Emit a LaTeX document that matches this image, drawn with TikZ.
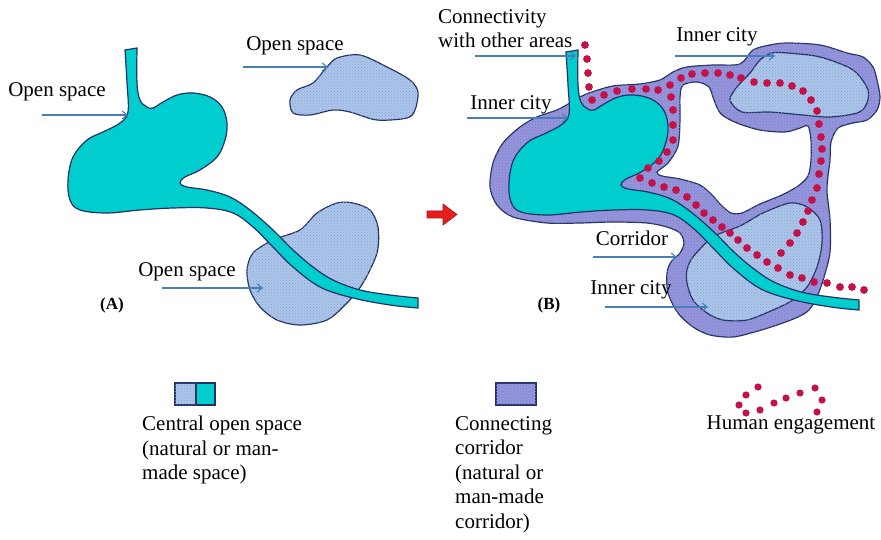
\documentclass[tikz,border=0pt]{standalone}
\usepackage{fontspec}
\setmainfont{Liberation Serif}
\usetikzlibrary{arrows.meta, patterns}
\definecolor{navy1}{RGB}{35, 50, 100}
\definecolor{river1}{RGB}{0, 205, 205}
\definecolor{open1}{RGB}{172, 198, 236}
\definecolor{corr1}{RGB}{150, 150, 222}
\definecolor{arrow1}{RGB}{74, 126, 187}
\definecolor{dot1}{RGB}{196, 18, 72}
\definecolor{red1}{RGB}{232, 30, 30}

\tikzset{
  lbl/.style={inner sep=0pt, font=\fontsize{21}{24.5}\selectfont},
  tag/.style={inner sep=0pt, font=\fontsize{17}{20}\selectfont\bfseries},
  ptr/.style={draw=arrow1, line width=1.1pt, -{Straight Barb[length=5pt,width=8pt]}},
  rim/.style={draw=navy1, line width=1.2pt},
  central/.style={rim, fill=river1},
  opensp/.style={rim, fill=open1, postaction={pattern=crosshatch dots, pattern color=open1!75!navy1}},
  corridor/.style={rim, fill=corr1, postaction={pattern=crosshatch dots, pattern color=corr1!75!navy1}},
  people/.style={fill=dot1},
  centralspace/.pic={
    \filldraw[central] (125,50)
      -- plot[smooth, tension=0.6] coordinates {(137,48) (137,83) (140,100) (147,107) (153,108) (163,102) (177,95) (193,93) (210,97) (222,107) (227,123) (225,140) (217,157) (200,170) (185,177) (180,183) (187,187) (207,190) (230,197) (250,210) (273,230) (293,250) (313,267) (333,280) (360,290) (390,295) (418,298)}
      -- plot[smooth, tension=0.6] coordinates {(418,308) (390,305) (353,298) (320,287) (293,267) (273,247) (253,227) (233,213) (207,208) (173,208) (140,210) (107,213) (80,210) (70,200) (68,180) (73,157) (87,140) (103,132) (120,123) (128,112) (127,83) (125,50)}
      -- cycle;
  }
}

\begin{document}
\begin{tikzpicture}[x=1pt, y=-1pt]
  \useasboundingbox (0,0) rectangle (881,540);

  % (A)
  \filldraw[opensp] plot[smooth cycle] coordinates {(290,100) (297,90) (313,83) (327,67) (337,58) (360,55) (387,67) (410,80) (418,92) (415,110) (407,118) (377,120) (350,112) (333,110) (310,115) (293,113)};
  \filldraw[opensp] plot[smooth cycle] coordinates {(247,270) (253,253) (273,240) (300,230) (317,213) (337,203) (353,203) (370,210) (378,227) (377,253) (363,283) (347,303) (327,320) (300,325) (277,320) (260,307) (250,290)};
  \pic (spaceA) at (0,0) {centralspace};

  \node[lbl] (openL) at (57,92) {Open space};
  \node[lbl] (openT) at (295,46) {Open space};
  \node[lbl] (openB) at (187,272) {Open space};
  \node[tag] (tagA) at (112,305) {(A)};
  \coordinate (openL0) at (42,115);  \coordinate (openL1) at (128,115);
  \coordinate (openT0) at (243,67);  \coordinate (openT1) at (328,67);
  \coordinate (openB0) at (162,288); \coordinate (openB1) at (263,288);
  \draw[ptr] (openL0) -- (openL1);
  \draw[ptr] (openT0) -- (openT1);
  \draw[ptr] (openB0) -- (openB1);

  % arrow between
  \filldraw[fill=red1, draw=red1!70!black, line width=0.6pt] (427,211) -- (443,211) -- (443,204) -- (457,214.5) -- (443,225) -- (443,218) -- (427,218) -- cycle;

  % (B)
  \filldraw[corridor, even odd rule]
    plot[smooth cycle] coordinates {(490,187) (493,163) (503,143) (520,127) (537,117) (557,110) (570,103) (582,96) (592,92) (613,86) (640,84) (660,80) (673,72) (687,67) (713,65) (740,64) (753,50) (770,45) (787,43) (820,45) (847,53) (863,57) (873,67) (877,80) (880,97) (877,110) (867,120) (853,123) (838,128) (831,142) (830,160) (828,176) (827,192) (830,220) (830,252) (824,277) (817,297) (809,310) (798,317) (780,324) (758,331) (733,337) (710,335) (693,327) (678,313) (668,293) (667,273) (671,262) (680,253) (684,243) (680,233) (667,227) (647,223) (613,222) (580,223) (547,223) (513,217) (497,205)}
    plot[smooth cycle] coordinates {(683,85) (697,82) (709,87) (714,100) (721,114) (737,123) (760,130) (785,132) (800,128) (808,126) (811,140) (811,160) (808,176) (798,186) (782,195) (760,204) (742,213) (731,213) (721,205) (712,195) (700,185) (680,179) (662,176) (657,172) (668,163) (678,146) (680,120) (680,97)};
  \filldraw[opensp] plot[smooth cycle] coordinates {(730,100) (737,87) (750,73) (760,60) (772,53) (787,53) (820,57) (853,70) (868,90) (866,105) (857,113) (830,117) (803,115) (770,112) (742,112)};
  \filldraw[opensp] plot[smooth cycle] coordinates {(687,270) (693,257) (713,237) (740,226) (763,213) (790,203) (807,207) (820,220) (822,243) (817,267) (807,287) (793,300) (773,310) (747,320) (723,320) (707,313) (693,300) (687,283)};
  \pic (spaceB) at (441,2) {centralspace};

  \foreach \x/\y in {585/45, 587/59, 588/73, 589/87,
    592/100, 604/95, 617/91, 632/89, 646/89, 658/90, 670/85,
    681/78, 692/74, 705/73, 718/73, 730/75, 741/78, 754/82, 767/83, 780/83, 792/86, 803/91, 811/100, 817/111, 819/124,
    821/137, 822/149, 821/161, 819/174, 817/188, 812/200, 808/211, 803/222, 797/233, 790/243, 781/253,
    671/97, 673/110, 673/125, 673/140, 667/152, 659/161, 648/168, 640/178, 652/183, 664/187, 676/190, 687/197, 696/205,
    704/213, 713/220, 722/227, 730/233, 738/240, 747/248, 757/255, 767/262, 778/268, 790/275, 802/278, 814/282,
    827/283, 840/287, 852/287, 864/290}
    \fill[people] (\x,\y) circle (3.9);

  \node[lbl, anchor=north west, align=left] (connect) at (438,9) {Connectivity\\with other areas};
  \node[lbl] (innerL) at (511,105) {Inner city};
  \node[lbl] (innerT) at (717,37) {Inner city};
  \node[lbl] (corrlbl) at (632,238) {Corridor};
  \node[lbl] (innerB) at (631,290) {Inner city};
  \node[tag] (tagB) at (549,305) {(B)};
  \coordinate (connect0) at (475,56); \coordinate (connect1) at (576,56);
  \coordinate (innerL0) at (467,118); \coordinate (innerL1) at (568,118);
  \coordinate (innerT0) at (675,56);  \coordinate (innerT1) at (775,56);
  \coordinate (corr0) at (593,257);   \coordinate (corr1) at (677,257);
  \coordinate (innerB0) at (605,307); \coordinate (innerB1) at (708,307);
  \draw[ptr] (connect0) -- (connect1);
  \draw[ptr] (innerL0) -- (innerL1);
  \draw[ptr] (innerT0) -- (innerT1);
  \draw[ptr] (corr0) -- (corr1);
  \draw[ptr] (innerB0) -- (innerB1);

  % legend
  \filldraw[opensp] (175,383) rectangle (196,405);
  \filldraw[central] (196,383) rectangle (215,405);
  \filldraw[corridor] (496,383) rectangle (536,405);
  \foreach \x/\y in {739/405, 746/395, 758/387, 746/413, 760/410, 774/403, 786/398, 800/393, 815/388, 822/400, 817/412}
    \fill[people] (\x,\y) circle (3.6);
  \node[lbl, anchor=north west, align=left] (legcentral) at (142,416) {Central open space\\(natural or man-\\made space)};
  \node[lbl, anchor=north west, align=left] (legcorridor) at (455,416) {Connecting\\corridor\\(natural or\\man-made\\corridor)};
  \node[lbl] (leghuman) at (791,425) {Human engagement};
\end{tikzpicture}
\end{document}
